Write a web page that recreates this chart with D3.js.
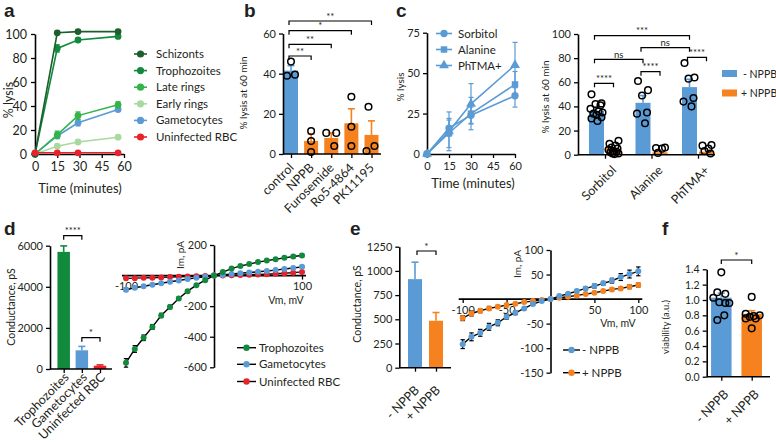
<!DOCTYPE html>
<html><head><meta charset="utf-8">
<script src="https://cdn.jsdelivr.net/npm/d3@7"></script>
<style>
body{margin:0;background:#fff}
svg{display:block}
text{font-family:Lato,"Open Sans",sans-serif;fill:#231f20}
</style>
</head><body>
<svg id="c" width="776" height="444"></svg>
<script>
// ---------------- DATA ----------------
// panel a
const aTimes = [0, 15, 29, 56];
const aNames = ["Schizonts", "Trophozoites", "Late rings", "Early rings", "Gametocytes", "Uninfected RBC"];
const aSchizonts = [0, 101, 102, 102];
const aTrophozoites = [0, 88, 95, 98];
const aLateRings = [0, 16, 32, 41];
const aEarlyRings = [0, 6.5, 10, 14];
const aGametocytes = [0, 15, 26, 37];
const aUninfected = [1, 1, 1, 1];
const aErrLate = [0, 3, 3, 2.5];
const aErrTroph = [0, 3, 1.5, 1];
const aErrGam = [0, 1.5, 2.5, 1.5];
const aTicksX = [0, 15, 30, 45, 60];
const aTicksY = [0, 20, 40, 60, 80, 100];

// panel b
const bCats = ["control", "NPPB", "Furosemide", "Ro5-4864", "PK11195"];
const bMeans = [41.5, 6.5, 8, 15.3, 9.5];
const bErr = [2.5, 3.5, 2.5, 7.2, 7];
const bPoints = [[46, 39, 39.5], [11.4, 6.5, 1], [10.5, 10.5, 4], [28.5, 13.6, 4], [23.5, 4, 1.5]];
const bTicksY = [0, 20, 40, 60];
const bSig = [["control", "NPPB", "**"], ["control", "Furosemide", "**"], ["control", "Ro5-4864", "*"], ["control", "PK11195", "**"]];

// panel c (time course)
const cTimes = [0, 15, 30, 60];
const cNames = ["Sorbitol", "Alanine", "PhTMA+"];
const cSorbitol = [0, 16, 24, 36];
const cAlanine = [0, 13, 25, 43];
const cPhTMA = [0, 14, 31, 55];
const cErrSorbitol = [0, 5, 5, 7];
const cErrAlanine = [0, 9, 10, 8];
const cErrPhTMA = [0, 12, 12.5, 14];
const cTicksX = [0, 15, 30, 45, 60];
const cTicksY = [0, 25, 50, 75];

// panel c (bars)
const c2Groups = ["Sorbitol", "Alanine", "PhTMA+"];
const c2Minus = [36.3, 43, 56];
const c2MinusErr = [2.8, 6, 6.5];
const c2Plus = [5, 2, 2.5];
const c2MinusPts = [[50, 42.5, 42, 41, 38, 36, 35, 34, 33, 31, 30, 28], [61, 53.5, 49, 35, 34, 26], [76, 64, 63, 47, 44, 40]];
const c2PlusPts = [[11.5, 9, 7.5, 6, 5, 4, 3, 2.5, 2, 1, 1, 0.5], [6, 5.5, 5, 1.5], [8, 7.5, 5, 3, 1]];
const c2TicksY = [0, 20, 40, 60, 80, 100];
const c2Legend = ["- NPPB", "+ NPPB"];

// panel d (bars)
const dCats = ["Trophozoites", "Gametocytes", "Uninfected RBC"];
const dMeans = [5700, 910, 160];
const dErr = [290, 190, 40];
const dTicksY = [0, 2000, 4000, 6000];

// panel d (IV)
const ivVm = [-100, -90, -80, -70, -60, -50, -40, -30, -20, -10, 0, 10, 20, 30, 40, 50, 60, 70, 80, 90, 100];
const dIVTroph = [-571, -480, -407, -336, -261, -205, -150, -102, -63, -30, 0, 23, 46, 63, 75, 88, 98, 107, 116, 125, 131];
const dIVTrophErr = [28, 22, 18, 16, 14, 12, 10, 8, 6, 4, 0, 3, 4, 5, 5, 6, 6, 7, 8, 9, 10];
const dIVGam = [-92, -80, -70, -60, -50, -40, -32, -22, -15, -8, 0, 4, 10, 15, 20, 25, 30, 36, 43, 50, 57];
const dIVGamErr = [12, 8, 7, 6, 5, 4, 4, 3, 3, 2, 0, 2, 2, 3, 3, 3, 4, 4, 5, 6, 7];
const dIVRbc = [-18, -17, -15, -14, -12, -10, -8, -6, -5, -3, 0, 1, 2, 4, 5, 7, 9, 12, 15, 19, 24];
const dIVTicksX = [-100, 100];
const dIVTicksY = [-600, -400, -200, 200];

// panel e (bars)
const eCats = ["- NPPB", "+ NPPB"];
const eMeans = [915, 485];
const eErr = [175, 85];
const eTicksY = [0, 250, 500, 750, 1000, 1250];

// panel e (IV)
const eIVMinus = [-91.8, -76.9, -68.7, -56.5, -48.3, -36, -27.9, -19, -10.2, -4.1, 0, 6.1, 10.9, 16.3, 21.8, 26.5, 32, 37.4, 44.9, 51, 56.5];
const eIVMinusErr = [9, 8, 7, 7, 6, 5, 4, 3, 2, 1, 0, 1, 2, 2, 3, 4, 4, 5, 7, 8, 9];
const eIVPlus = [-38.8, -29.3, -23.8, -19, -15.6, -12.2, -9.5, -6.1, -4.1, -2, 0, 2.7, 4.8, 7.5, 10.2, 12.9, 16.3, 19.7, 21.8, 25.2, 28.6];
const eIVPlusErr = [5, 5, 4, 4, 3, 3, 2, 2, 1, 1, 0, 1, 1, 1, 2, 2, 2, 3, 3, 4, 4];
const eIVTicksX = [-100, -50, 50, 100];
const eIVTicksY = [-150, -100, -50, 50, 100];

// panel f
const fCats = ["- NPPB", "+ NPPB"];
const fMeans = [1.03, 0.82];
const fErr = [0.06, 0.04];
const fPoints = [[1.36, 1.1, 1.08, 1.03, 0.97, 0.96, 0.96, 0.8, 0.74], [1.04, 0.82, 0.8, 0.79, 0.78, 0.76, 0.76, 0.63]];
const fTicksY = [0, 0.2, 0.4, 0.6, 0.8, 1.0, 1.2, 1.4];

// ---------------- STYLE ----------------
const BLUE = "#5b9bd5", ORANGE = "#f5821f", RED = "#e8212b";
const GREENS = ["#1e5e2c", "#128a3e", "#33b44a", "#a9d9a0", BLUE, RED];
const DGREEN = "#128a3e";

const svg = d3.select("#c");
svg.append("rect").attr("width", 776).attr("height", 444).attr("fill", "#fff");

const num = d => String(d);

function styleAxis(g, fs) {
  g.selectAll("path.domain").attr("stroke", "#000").attr("stroke-width", 1.6);
  g.selectAll(".tick line").attr("stroke", "#000").attr("stroke-width", 1.3);
  g.selectAll(".tick text").style("font-size", fs + "px").attr("fill", "#231f20").style("font-family", "Lato");
}
function panelLabel(t, x, y) {
  svg.append("text").attr("x", x).attr("y", y).text(t)
    .style("font-size", "19px").style("font-weight", "900").style("font-family", "Arial, 'Liberation Sans'").attr("fill", "#000");
}
function yTitle(t, x, y, fs) {
  svg.append("text").attr("transform", `translate(${x},${y}) rotate(-90)`).attr("text-anchor", "middle")
    .style("font-size", fs + "px").text(t);
}
function xText(t, x, y, fs, anchor) {
  svg.append("text").attr("x", x).attr("y", y).attr("text-anchor", anchor || "middle").style("font-size", fs + "px").text(t);
}
function rotLabels(cats, xs, y0, fs, dx) {
  cats.forEach((c, i) => {
    svg.append("text").attr("transform", `translate(${xs(c) + (dx || 3)},${y0}) rotate(-45)`)
      .attr("text-anchor", "end").style("font-size", fs + "px").text(c);
  });
}
function bracket(x1, x2, y, label, fs) {
  svg.append("path").attr("d", `M${x1},${y + 4}V${y}H${x2}V${y + 4}`).attr("fill", "none").attr("stroke", "#000").attr("stroke-width", 1.2);
  svg.append("text").attr("x", (x1 + x2) / 2).attr("y", y - 1.5).attr("text-anchor", "middle")
    .style("font-size", (fs || 9) + "px").attr("fill", "#555").text(label);
}
function errBar(g, x, y1, y2, color, cap, w) {
  g.append("line").attr("x1", x).attr("x2", x).attr("y1", y1).attr("y2", y2).attr("stroke", color).attr("stroke-width", w || 1.4);
  g.append("line").attr("x1", x - cap).attr("x2", x + cap).attr("y1", y2).attr("y2", y2).attr("stroke", color).attr("stroke-width", w || 1.4);
}
function openDots(g, x, vals, y, offs) {
  vals.forEach((v, i) => {
    g.append("circle").attr("cx", x + (offs ? offs[i % offs.length] : 0)).attr("cy", y(v)).attr("r", 3.3)
      .attr("fill", "none").attr("stroke", "#000").attr("stroke-width", 1.5);
  });
}

// ---------------- PANEL A ----------------
panelLabel("a", 4, 17);
{
  const x = d3.scaleLinear().domain([0, 60]).range([35, 124]);
  const y = d3.scaleLinear().domain([0, 100]).range([154, 34]);
  const gx = svg.append("g").attr("transform", "translate(0,154)").call(d3.axisBottom(x).tickValues(aTicksX).tickFormat(num).tickSize(4).tickSizeOuter(0).tickPadding(4));
  styleAxis(gx, 12.5);
  const gy = svg.append("g").attr("transform", "translate(35,0)").call(d3.axisLeft(y).tickValues(aTicksY).tickFormat(num).tickSize(4).tickSizeOuter(0).tickPadding(4));
  styleAxis(gy, 12.5);
  yTitle("% lysis", 13, 100, 12.5);
  xText("Time (minutes)", 80, 193, 13);
  const series = [aSchizonts, aTrophozoites, aLateRings, aEarlyRings, aGametocytes, aUninfected];
  const errs = [null, aErrTroph, aErrLate, null, aErrGam, null];
  const line = d3.line().x((d, i) => x(aTimes[i])).y(d => y(d));
  const order = [3, 4, 2, 1, 0, 5];
  order.forEach(k => {
    const g = svg.append("g");
    g.append("path").attr("d", line(series[k])).attr("fill", "none").attr("stroke", GREENS[k]).attr("stroke-width", 1.6);
    if (errs[k]) series[k].forEach((v, i) => {
      if (errs[k][i] > 0) {
        errBar(g, x(aTimes[i]), y(v - errs[k][i]), y(v + errs[k][i]), GREENS[k], 2.5);
        errBar(g, x(aTimes[i]), y(v), y(v - errs[k][i]), GREENS[k], 2.5);
      }
    });
    series[k].forEach((v, i) => g.append("circle").attr("cx", x(aTimes[i])).attr("cy", y(v)).attr("r", 3.4).attr("fill", GREENS[k]));
  });
  aNames.forEach((n, i) => {
    const ly = 54 + i * 16.6;
    svg.append("line").attr("x1", 134).attr("x2", 147).attr("y1", ly).attr("y2", ly).attr("stroke", GREENS[i]).attr("stroke-width", 1.6);
    svg.append("circle").attr("cx", 140.5).attr("cy", ly).attr("r", 3.6).attr("fill", GREENS[i]);
    svg.append("text").attr("x", 156).attr("y", ly + 4).style("font-size", "11.5px").text(n);
  });
}

// ---------------- PANEL B ----------------
panelLabel("b", 244, 17);
{
  const x = d3.scalePoint().domain(bCats).range([291, 371.5]);
  const y = d3.scaleLinear().domain([0, 60]).range([154, 33.5]);
  const bw = 14;
  const g = svg.append("g");
  bCats.forEach((c, i) => {
    const col = i === 0 ? BLUE : ORANGE;
    errBar(g, x(c), y(bMeans[i]), y(bMeans[i] + bErr[i]), col, 3.5, 1.6);
    g.append("rect").attr("x", x(c) - bw / 2).attr("width", bw).attr("y", y(bMeans[i])).attr("height", y(0) - y(bMeans[i])).attr("fill", col);
  });
  const offs = [[0, -4, 4], [0, 0, 0], [-5, 5, 3], [0, 0, 0], [-3, 3, -5]];
  bCats.forEach((c, i) => openDots(g, x(c), bPoints[i], y, offs[i]));
  const gx = svg.append("g").attr("transform", "translate(0,154)").call(d3.axisBottom(x).tickSize(4).tickFormat("").tickSizeOuter(0));
  gx.select("path.domain").attr("d", "M283,0H381");
  styleAxis(gx, 11);
  const gy = svg.append("g").attr("transform", "translate(283,0)").call(d3.axisLeft(y).tickValues(bTicksY).tickFormat(num).tickSize(4).tickSizeOuter(0).tickPadding(3));
  styleAxis(gy, 11);
  yTitle("% lysis at 60 min", 247, 93, 10);
  rotLabels(bCats, x, 168.5, 12.5, 3.5);
  const ly = [56, 44.3, 30.7, 21];
  bSig.forEach((s, i) => bracket(x(s[0]) - 2, x(s[1]), ly[i], s[2], 9.5));
}

// ---------------- PANEL C (time course) ----------------
panelLabel("c", 396, 17);
{
  const x = d3.scaleLinear().domain([0, 60]).range([427, 515]);
  const y = d3.scaleLinear().domain([0, 75]).range([154, 32.7]);
  const gx = svg.append("g").attr("transform", "translate(0,154)").call(d3.axisBottom(x).tickValues(cTicksX).tickFormat(num).tickSize(4).tickSizeOuter(0).tickPadding(4));
  styleAxis(gx, 11);
  const gy = svg.append("g").attr("transform", "translate(427,0)").call(d3.axisLeft(y).tickValues(cTicksY).tickFormat(num).tickSize(4).tickSizeOuter(0).tickPadding(3));
  styleAxis(gy, 11);
  yTitle("% lysis", 404, 87, 10);
  xText("Time (minutes)", 473, 188, 13);
  const series = [cSorbitol, cAlanine, cPhTMA];
  const errs = [cErrSorbitol, cErrAlanine, cErrPhTMA];
  const shapes = [d3.symbolCircle, d3.symbolSquare, d3.symbolTriangle];
  const line = d3.line().x((d, i) => x(cTimes[i])).y(d => y(d));
  series.forEach((s, k) => {
    const g = svg.append("g");
    g.append("path").attr("d", line(s)).attr("fill", "none").attr("stroke", BLUE).attr("stroke-width", 1.6);
    s.forEach((v, i) => {
      if (errs[k][i] > 0) {
        errBar(g, x(cTimes[i]), y(v), y(v + errs[k][i]), BLUE, 2.5, 1.2);
        errBar(g, x(cTimes[i]), y(v), y(v - errs[k][i]), BLUE, 2.5, 1.2);
      }
      g.append("path").attr("d", d3.symbol(shapes[k], 42)()).attr("transform", `translate(${x(cTimes[i])},${y(v)})`).attr("fill", BLUE);
    });
  });
  cNames.forEach((n, i) => {
    const ly = 33.5 + i * 16;
    svg.append("line").attr("x1", 436).attr("x2", 452).attr("y1", ly).attr("y2", ly).attr("stroke", BLUE).attr("stroke-width", 1.6);
    svg.append("path").attr("d", d3.symbol(shapes[i], 42)()).attr("transform", `translate(444,${ly})`).attr("fill", BLUE);
    svg.append("text").attr("x", 458).attr("y", ly + 4).style("font-size", "11.5px").text(n);
  });
}

// ---------------- PANEL C (bars) ----------------
{
  const x = d3.scalePoint().domain(c2Groups).range([605, 698]);
  const y = d3.scaleLinear().domain([0, 100]).range([154.7, 34]);
  const bw = 15, off = 8.5;
  const g = svg.append("g");
  c2Groups.forEach((c, i) => {
    errBar(g, x(c) - off, y(c2Minus[i]), y(c2Minus[i] + c2MinusErr[i]), BLUE, 3.5, 1.6);
    g.append("rect").attr("x", x(c) - off - bw / 2).attr("width", bw).attr("y", y(c2Minus[i])).attr("height", y(0) - y(c2Minus[i])).attr("fill", BLUE);
    g.append("rect").attr("x", x(c) + off - bw / 2).attr("width", bw).attr("y", y(c2Plus[i])).attr("height", y(0) - y(c2Plus[i])).attr("fill", ORANGE);
  });
  const offsM = [-5, 5, -1, 4, -6, 2, 6, -3, 0, 5, -5, 1];
  const offsP = [5, -4, 2, -2, 4, -5, 0, 3, -3, 5, -1, 1];
  c2Groups.forEach((c, i) => {
    openDots(g, x(c) - off, c2MinusPts[i], y, offsM);
    openDots(g, x(c) + off, c2PlusPts[i], y, offsP);
  });
  const gx = svg.append("g").attr("transform", "translate(0,154.7)").call(d3.axisBottom(x).tickSize(4).tickFormat("").tickSizeOuter(0));
  gx.select("path.domain").attr("d", "M578,0H715");
  styleAxis(gx, 11);
  const gy = svg.append("g").attr("transform", "translate(578,0)").call(d3.axisLeft(y).tickValues(c2TicksY).tickFormat(num).tickSize(4).tickSizeOuter(0).tickPadding(3));
  styleAxis(gy, 11);
  yTitle("% lysis at 60 min", 549, 97, 10);
  rotLabels(c2Groups, x, 171, 12.5, 12);
  c2Groups.forEach((c, i) => bracket(x(c) - off - 2, x(c) + off, [83.3, 71.7, 57.3][i], "****", 9.5));
  bracket(x("Sorbitol") - off - 2, x("Alanine") - off, 59.3, "ns", 9.5);
  bracket(x("Alanine") - off - 2, x("PhTMA+") - off, 47.7, "ns", 9.5);
  bracket(x("Sorbitol") - off - 2, x("PhTMA+") - off, 35.7, "***", 9.5);
  c2Legend.forEach((n, i) => {
    const ly = 73.5 + i * 19.5;
    svg.append("rect").attr("x", 722).attr("y", ly - 3.5).attr("width", 15).attr("height", 7).attr("fill", i ? ORANGE : BLUE);
    svg.append("text").attr("x", i ? 741 : 743).attr("y", ly + 4).style("font-size", "10.5px").text(n);
  });
}

// ---------------- PANEL D (bars) ----------------
panelLabel("d", 4, 235);
{
  const x = d3.scalePoint().domain(dCats).range([63.7, 100]);
  const y = d3.scaleLinear().domain([0, 6000]).range([369, 245.7]);
  const bw = 12.5;
  const cols = [DGREEN, BLUE, RED];
  const g = svg.append("g");
  dCats.forEach((c, i) => {
    errBar(g, x(c), y(dMeans[i]), y(dMeans[i] + dErr[i]), cols[i], 3.5, 1.6);
    g.append("rect").attr("x", x(c) - bw / 2).attr("width", bw).attr("y", y(dMeans[i])).attr("height", y(0) - y(dMeans[i])).attr("fill", cols[i]);
  });
  const gx = svg.append("g").attr("transform", "translate(0,369)").call(d3.axisBottom(x).tickSize(4).tickFormat("").tickSizeOuter(0));
  gx.select("path.domain").attr("d", "M50,0H112");
  styleAxis(gx, 11);
  const gy = svg.append("g").attr("transform", "translate(50,0)").call(d3.axisLeft(y).tickValues(dTicksY).tickFormat(num).tickSize(4).tickSizeOuter(0).tickPadding(3));
  styleAxis(gy, 11);
  yTitle("Conductance, pS", 15, 307, 10.5);
  rotLabels(dCats, x, 378, 12.5, 6);
  bracket(x("Trophozoites"), x("Gametocytes"), 235.7, "****", 9.5);
  bracket(x("Gametocytes"), x("Uninfected RBC"), 337.7, "*", 10);
}

// ---------------- IV helper ----------------
function ivPlot(opt) {
  const x = d3.scaleLinear().domain([-100, 100]).range(opt.xr);
  const y = d3.scaleLinear().domain(opt.yd).range(opt.yr);
  const gy = svg.append("g").attr("transform", `translate(${x(0)},0)`).call(d3.axisLeft(y).tickValues(opt.ty).tickFormat(num).tickSize(4).tickSizeOuter(0).tickPadding(3));
  styleAxis(gy, opt.fs);
  const gx = svg.append("g").attr("transform", `translate(0,${y(0)})`).call(d3.axisBottom(x).tickValues(opt.tx).tickFormat(num).tickSize(4).tickSizeOuter(0).tickPadding(3));
  gx.select("path.domain").attr("d", `M${opt.xr[0] - 4},0H${opt.xr[1] + 4}`);
  styleAxis(gx, opt.fs);
  const line = d3.line().x((d, i) => x(ivVm[i])).y(d => y(d));
  opt.series.forEach(s => {
    const g = svg.append("g");
    g.append("path").attr("d", line(s.v)).attr("fill", "none").attr("stroke", "#000").attr("stroke-width", 1.4);
    if (s.e) s.v.forEach((v, i) => {
      if (s.e[i] > 0) {
        errBar(g, x(ivVm[i]), y(v), y(v + s.e[i]), "#000", 2.2, 1.2);
        errBar(g, x(ivVm[i]), y(v), y(v - s.e[i]), "#000", 2.2, 1.2);
      }
    });
    s.v.forEach((v, i) => g.append("circle").attr("cx", x(ivVm[i])).attr("cy", y(v)).attr("r", 3).attr("fill", s.c));
  });
  return {x, y};
}

// ---------------- PANEL D (IV) ----------------
{
  ivPlot({xr: [126, 302], yd: [-600, 200], yr: [367.3, 245], tx: dIVTicksX, ty: dIVTicksY, fs: 11,
    series: [{v: dIVRbc, c: RED}, {v: dIVGam, e: dIVGamErr, c: BLUE}, {v: dIVTroph, e: dIVTrophErr, c: DGREEN}]});
  yTitle("Im, pA", 184, 255, 10);
  xText("Vm, mV", 286, 304, 10.5);
  const names = ["Trophozoites", "Gametocytes", "Uninfected RBC"], cols = [DGREEN, BLUE, RED];
  names.forEach((n, i) => {
    const ly = [347.7, 364.3, 381.5][i];
    svg.append("line").attr("x1", 237).attr("x2", 256).attr("y1", ly).attr("y2", ly).attr("stroke", "#000").attr("stroke-width", 1.4);
    svg.append("circle").attr("cx", 246.5).attr("cy", ly).attr("r", 3.2).attr("fill", cols[i]);
    svg.append("text").attr("x", 259).attr("y", ly + 4).style("font-size", "11.5px").text(n);
  });
}

// ---------------- PANEL E (bars) ----------------
panelLabel("e", 350, 235);
{
  const x = d3.scalePoint().domain(eCats).range([415, 436]);
  const y = d3.scaleLinear().domain([0, 1250]).range([367.7, 246.7]);
  const bw = 14, cols = [BLUE, ORANGE];
  const g = svg.append("g");
  eCats.forEach((c, i) => {
    errBar(g, x(c), y(eMeans[i]), y(eMeans[i] + eErr[i]), cols[i], 3.5, 1.6);
    g.append("rect").attr("x", x(c) - bw / 2).attr("width", bw).attr("y", y(eMeans[i])).attr("height", y(0) - y(eMeans[i])).attr("fill", cols[i]);
  });
  const gx = svg.append("g").attr("transform", "translate(0,367.7)").call(d3.axisBottom(x).tickSize(4).tickFormat("").tickSizeOuter(0));
  gx.select("path.domain").attr("d", "M399.3,0H451");
  styleAxis(gx, 11);
  const gy = svg.append("g").attr("transform", "translate(399.3,0)").call(d3.axisLeft(y).tickValues(eTicksY).tickFormat(num).tickSize(4).tickSizeOuter(0).tickPadding(3));
  styleAxis(gy, 11);
  yTitle("Conductance, pS", 361, 304, 10.5);
  rotLabels(eCats, x, 391, 12.5, 5);
  bracket(x("- NPPB") + 2, x("+ NPPB"), 251, "*", 10);
}

// ---------------- PANEL E (IV) ----------------
{
  ivPlot({xr: [462.7, 638.3], yd: [-150, 100], yr: [372.7, 250], tx: eIVTicksX, ty: eIVTicksY, fs: 11,
    series: [{v: eIVPlus, e: eIVPlusErr, c: ORANGE}, {v: eIVMinus, e: eIVMinusErr, c: BLUE}]});
  yTitle("Im, pA", 521, 264, 10);
  xText("Vm, mV", 618, 327, 10.5);
  ["- NPPB", "+ NPPB"].forEach((n, i) => {
    const ly = [350, 372.7][i];
    svg.append("line").attr("x1", 563).attr("x2", 580).attr("y1", ly).attr("y2", ly).attr("stroke", "#000").attr("stroke-width", 1.4);
    svg.append("circle").attr("cx", 571.5).attr("cy", ly).attr("r", 3.2).attr("fill", i ? ORANGE : BLUE);
    svg.append("text").attr("x", 582).attr("y", ly + 4).style("font-size", "11.5px").text(n);
  });
}

// ---------------- PANEL F ----------------
panelLabel("f", 662, 235);
{
  const x = d3.scalePoint().domain(fCats).range([721.3, 751.7]);
  const y = d3.scaleLinear().domain([0, 1.4]).range([376.7, 269.3]);
  const bw = 20.5, cols = [BLUE, ORANGE];
  const g = svg.append("g");
  fCats.forEach((c, i) => {
    errBar(g, x(c), y(fMeans[i]), y(fMeans[i] + fErr[i]), cols[i], 3.5, 1.6);
    g.append("rect").attr("x", x(c) - bw / 2).attr("width", bw).attr("y", y(fMeans[i])).attr("height", y(0) - y(fMeans[i])).attr("fill", cols[i]);
  });
  const offs = [[0, -4, 4, -8, -2, 4, 8, 3, -4], [0, -6, 8, 2, -2, -6, 4, 0]];
  fCats.forEach((c, i) => openDots(g, x(c), fPoints[i], y, offs[i]));
  const gx = svg.append("g").attr("transform", "translate(0,376.7)").call(d3.axisBottom(x).tickSize(4).tickFormat("").tickSizeOuter(0));
  gx.select("path.domain").attr("d", "M706.7,0H770");
  styleAxis(gx, 10.5);
  const gy = svg.append("g").attr("transform", "translate(706.7,0)").call(d3.axisLeft(y).tickValues(fTicksY).tickFormat(d3.format(".1f")).tickSize(4).tickSizeOuter(0).tickPadding(3));
  styleAxis(gy, 10.5);
  yTitle("viability (a.u.)", 669, 327, 9.5);
  rotLabels(fCats, x, 395, 12.5, 8);
  bracket(x("- NPPB"), x("+ NPPB"), 260, "*", 10);
}
</script>
</body></html>
